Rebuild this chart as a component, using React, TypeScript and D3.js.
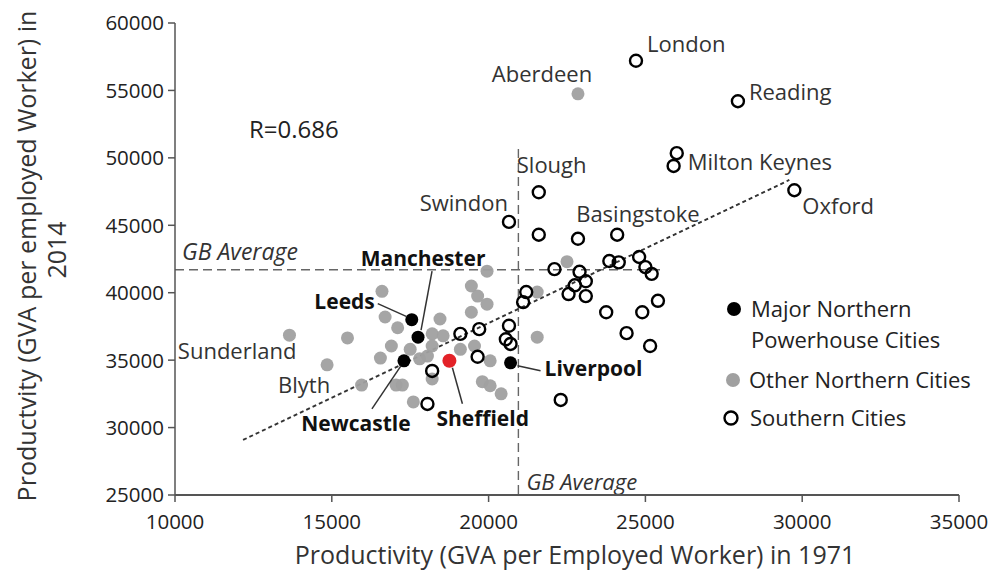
import React from "react";
import * as d3 from "d3";

// ---------- DATA ----------
const xTicks = [10000, 15000, 20000, 25000, 30000, 35000];
const yTicks = [25000, 30000, 35000, 40000, 45000, 50000, 55000, 60000];

// Southern cities [x (1971), y (2014)]
const southernX = [24700, 27950, 26000, 25900, 29750, 21600, 20650, 21600, 22850, 24100, 22100, 22900, 23850, 24150, 24800, 25000, 25200, 23100, 22750, 22550, 23100, 21200, 21100, 25400, 23750, 24900, 24400, 25150, 20650, 20550, 20700, 19700, 19100, 19650, 18200, 18050, 22300];
const southernY = [57200, 54200, 50350, 49400, 47600, 47450, 45250, 44300, 44000, 44300, 41750, 41550, 42350, 42250, 42650, 41900, 41400, 40850, 40550, 39900, 39750, 40050, 39300, 39400, 38550, 38550, 37000, 36050, 37550, 36550, 36200, 37300, 36950, 35250, 34200, 31750, 32050];

// Other northern cities
const otherX = [22850, 13650, 14850, 15500, 15950, 16600, 16700, 17100, 16900, 16550, 17050, 17250, 17600, 17500, 17800, 18450, 18200, 18550, 19100, 18200, 19450, 19650, 19950, 19450, 19950, 19550, 20050, 19800, 20050, 20400, 18200, 21550, 21550, 22500, 18050];
const otherY = [54750, 36850, 34650, 36650, 33150, 40100, 38200, 37400, 36050, 35150, 33150, 33150, 31900, 35800, 35100, 38050, 36950, 36800, 35800, 36050, 40500, 39750, 39150, 38550, 41600, 36050, 34950, 33400, 33100, 32500, 33600, 36700, 40050, 42300, 35300];

// Major northern powerhouse cities
const majorNames = ["Leeds", "Manchester", "Newcastle", "Liverpool"];
const majorX = [17550, 17750, 17300, 20700];
const majorY = [38000, 36700, 34950, 34800];

// Sheffield (highlighted)
const sheffieldX = 18750;
const sheffieldY = 34950;

// Trend line end points
const trendX = [12170, 29590];
const trendY = [29080, 48360];

// GB averages
const gbAvgX = 20950;
const gbAvgY = 41700;
const gbAvgYLineEndX = 25600;
const gbAvgXLineTopY = 50650;

// Plain annotations
const southLabels = ["London", "Reading", "Milton Keynes", "Oxford", "Slough", "Swindon", "Basingstoke"];
const southLabelX = [24700, 27950, 26000, 29750, 21600, 20650, 24100];
const southLabelY = [57200, 54200, 50350, 47600, 47450, 45250, 44300];
const otherLabels = ["Aberdeen", "Sunderland", "Blyth"];
const otherLabelX = [22850, 13650, 14850];
const otherLabelY = [54750, 36850, 34650];

const legendItems = ["Major Northern|Powerhouse  Cities", "Other Northern Cities", "Southern Cities"];

// ---------- LAYOUT ----------
const W = 994;
const H = 574;
const FONT = "'Open Sans', 'Noto Sans', sans-serif";
const GRAY = "#a0a0a0";
const R = 6.5;

const x = d3.scaleLinear().domain([10000, 35000]).range([175, 959]);
const y = d3.scaleLinear().domain([25000, 60000]).range([495, 23]);

const labelOffsets: Record<string, [number, number, string]> = {
  London: [11, -9, "start"],
  Reading: [11, -1, "start"],
  "Milton Keynes": [11, 17, "start"],
  Oxford: [8, 24, "start"],
  Slough: [-22, -19, "start"],
  Swindon: [-1, -11, "end"],
  Basingstoke: [-41, -13, "start"],
  Aberdeen: [-36, -12, "middle"],
  Sunderland: [7, 24, "end"],
  Blyth: [-23, 28, "middle"],
};

// bold label offsets and leader lines: [dx, dy, anchor, lx1, ly1, lx2, ly2] relative to point
const majorOffsets: Record<string, [number, number, string, number, number, number, number]> = {
  Leeds: [-37, -11, "end", -34, -16, -5, -3],
  Manchester: [5, -71, "middle", 14, -66, 3, -7],
  Newcastle: [-48, 70, "middle", -32, 48, -3, 5],
  Sheffield: [-13, 65, "start", 13, 43, 3, 7],
  Liverpool: [34, 13, "start", 7, 3, 30, 8],
};

export default function App() {
  const southern = southernX.map((v, i) => [v, southernY[i]]);
  const other = otherX.map((v, i) => [v, otherY[i]]);
  const major = majorX.map((v, i) => ({ name: majorNames[i], x: v, y: majorY[i] }));
  const boldLabels = [...major, { name: "Sheffield", x: sheffieldX, y: sheffieldY }];
  const trendLine = d3.line<number>().x((d) => x(d)).y((_, i) => y(trendY[i]))(trendX) || "";

  return (
    <svg width={W} height={H} style={{ position: "absolute", left: 0, top: 0, background: "#fff" }} fontFamily={FONT}>
      <rect width={W} height={H} fill="#fff" />
      {/* GB average lines */}
      <line x1={x(10000)} x2={x(gbAvgYLineEndX)} y1={y(gbAvgY)} y2={y(gbAvgY)} stroke="#666" strokeWidth={1.4} strokeDasharray="9,5" />
      <line x1={x(gbAvgX)} x2={x(gbAvgX)} y1={y(gbAvgXLineTopY)} y2={y(25000)} stroke="#666" strokeWidth={1.4} strokeDasharray="9,5" />
      <text x={x(10000) + 7} y={y(gbAvgY) - 10} fontSize={23} fontStyle="italic" fill="#333">GB Average</text>
      <text x={x(gbAvgX) + 8} y={y(25000) - 5} fontSize={22} fontStyle="italic" fill="#333">GB Average</text>

      {/* trend line */}
      <path d={trendLine} stroke="#333" strokeWidth={1.9} strokeDasharray="4,3" fill="none" />

      {/* axes */}
      <g stroke="#555" strokeWidth={1.5}>
        <line x1={x(10000)} x2={x(10000)} y1={y(60000)} y2={y(25000)} />
        <line x1={x(10000)} x2={x(35000)} y1={y(25000)} y2={y(25000)} strokeWidth={2} />
        {yTicks.map((t) => (
          <line key={t} x1={x(10000) - 7} x2={x(10000)} y1={y(t)} y2={y(t)} />
        ))}
        {xTicks.map((t) => (
          <line key={t} x1={x(t)} x2={x(t)} y1={y(25000)} y2={y(25000) + 7} />
        ))}
      </g>
      {yTicks.map((t) => (
        <text key={t} x={x(10000) - 11} y={y(t)} dy="0.36em" textAnchor="end" fontSize={20.5} fill="#222">{t}</text>
      ))}
      {xTicks.map((t) => (
        <text key={t} x={x(t)} y={y(25000) + 34} textAnchor="middle" fontSize={20.5} fill="#222">{t}</text>
      ))}
      <text x={575} y={564} textAnchor="middle" fontSize={25} fill="#333">Productivity (GVA per Employed Worker) in 1971</text>
      <text transform="translate(36,256) rotate(-90)" textAnchor="middle" fontSize={25} fill="#333">Productvity (GVA per employed Worker) in</text>
      <text transform="translate(66,250) rotate(-90)" textAnchor="middle" fontSize={25} fill="#333">2014</text>

      <text x={249} y={138} fontSize={24} fill="#222">R=0.686</text>

      {/* points */}
      {other.map((d, i) => (
        <circle key={"o" + i} cx={x(d[0])} cy={y(d[1])} r={R} fill={GRAY} opacity={0.95} />
      ))}
      {southern.map((d, i) => (
        <circle key={"s" + i} cx={x(d[0])} cy={y(d[1])} r={R - 0.5} fill="none" stroke="#000" strokeWidth={2.4} />
      ))}
      {major.map((d) => (
        <circle key={d.name} cx={x(d.x)} cy={y(d.y)} r={R} fill="#000" />
      ))}
      <circle cx={x(sheffieldX)} cy={y(sheffieldY)} r={R + 0.5} fill="#e32228" />

      {/* plain labels */}
      {southLabels.map((n, i) => {
        const o = labelOffsets[n];
        return (
          <text key={n} x={x(southLabelX[i]) + o[0]} y={y(southLabelY[i]) + o[1]} textAnchor={o[2] as any} fontSize={22} fill="#333">{n}</text>
        );
      })}
      {otherLabels.map((n, i) => {
        const o = labelOffsets[n];
        return (
          <text key={n} x={x(otherLabelX[i]) + o[0]} y={y(otherLabelY[i]) + o[1]} textAnchor={o[2] as any} fontSize={22} fill="#333">{n}</text>
        );
      })}

      {/* bold labels with leader lines */}
      {boldLabels.map((d) => {
        const o = majorOffsets[d.name];
        const px = x(d.x);
        const py = y(d.y);
        return (
          <g key={"b" + d.name}>
            <line x1={px + o[3]} y1={py + o[4]} x2={px + o[5]} y2={py + o[6]} stroke="#333" strokeWidth={1.5} />
            <text x={px + o[0]} y={py + o[1]} textAnchor={o[2] as any} fontSize={21} fontWeight="bold" fill="#111">{d.name}</text>
          </g>
        );
      })}

      {/* legend */}
      <g fontSize={22} fill="#222">
        <circle cx={734} cy={309} r={R + 0.5} fill="#000" />
        <text x={751} y={317}>{legendItems[0].split("|")[0]}</text>
        <text x={751} y={348}>{legendItems[0].split("|")[1]}</text>
        <circle cx={733} cy={380} r={R + 0.5} fill={GRAY} />
        <text x={749} y={388}>{legendItems[1]}</text>
        <circle cx={731} cy={418} r={R} fill="none" stroke="#000" strokeWidth={2.4} />
        <text x={750} y={426}>{legendItems[2]}</text>
      </g>
    </svg>
  );
}
